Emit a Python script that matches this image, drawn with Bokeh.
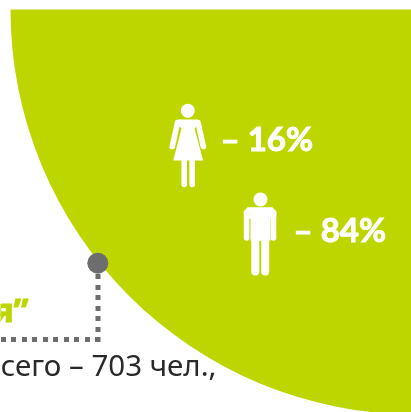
from bokeh.plotting import figure
from bokeh.models import Range1d
from bokeh.core.properties import value
from bokeh.embed import file_html
from bokeh.resources import INLINE
import math

W, H = 411, 412
GREEN = "#bed600"
GREY = "#6d6d6e"

# content
share_labels = ["– 16%", "– 84%"]
share_x = [220, 293]
share_y = [137, 228.5]
total_label = ["сего – 703 чел.,"]
title_tail = ["я”"]

# quarter disc
disc_x, disc_y, disc_r = 415, 9, 405

p = figure(width=W, height=H, output_backend="svg", toolbar_location=None,
           x_range=Range1d(0, W), y_range=Range1d(H, 0), min_border=0,
           outline_line_color=None)
p.styles = {"position": "fixed", "left": "0px", "top": "0px"}
p.xaxis.visible = False
p.yaxis.visible = False
p.grid.visible = False

p.wedge(x=[disc_x], y=[disc_y], radius=disc_r, start_angle=math.pi, end_angle=1.5*math.pi,
        direction="anticlock", fill_color=GREEN, line_color=None)

# dotted leader
p.line([99.5, 0], [339, 339], line_color=GREY, line_width=5, line_dash="5 5 5 6")
p.line([97.5, 97.5], [341.5, 265], line_color=GREY, line_width=5, line_dash="5 5 5 6")
p.circle(x=[97.3], y=[262.7], radius=10.5, fill_color=GREY, line_color=None)

# woman
p.circle(x=[187.3], y=[110.3], radius=7, fill_color="white", line_color=None)
p.patch([178, 197, 200, 194, 202.7, 172.7, 181, 175],
        [119, 119, 122, 128, 160, 160, 128, 122], fill_color="white", line_color=None)
p.multi_line([[177, 171.8], [197.6, 202.8], [183.7, 183.7], [191.7, 191.7]],
             [[122, 146], [122, 146], [158, 184], [158, 184]],
             line_color="white", line_width=5.6, line_cap="round")

# man
p.circle(x=[260], y=[199], radius=7, fill_color="white", line_color=None)
p.patch([247, 272, 275.8, 275.8, 270, 270, 250, 250, 243.3, 243.3],
        [206.7, 206.7, 211, 218, 218, 240, 240, 218, 218, 211],
        fill_color="white", line_color=None)
p.multi_line([[246.1, 246.1], [273, 273]], [[212, 237.5], [212, 237.5]],
             line_color="white", line_width=5.6, line_cap="round")
p.patch([250.7, 268.5, 268.5, 250.7], [218, 218, 240, 240], fill_color="white", line_color=None)
p.multi_line([[254.8, 254.8], [264.7, 264.7]], [[238, 271], [238, 271]],
             line_color="white", line_width=8, line_cap="round")

# texts
p.text(x=share_x, y=share_y, text=share_labels, text_color="white",
       text_font=value("Lato"), text_font_style="bold", text_font_size="33px",
       text_baseline="alphabetic", text_outline_color="white")
p.text(x=[216], y=[364], text=total_label, text_color="#2a2a2a", text_align="right",
       text_font=value("Noto Sans"), text_font_size="29.5px", text_baseline="alphabetic")
p.text(x=[28], y=[309], text=title_tail, text_color=GREEN, text_align="right",
       text_font=value("Noto Sans"), text_font_style="bold", text_font_size="33px",
       text_baseline="alphabetic", text_outline_color=GREEN)

open("out.html", "w").write(file_html(p, INLINE))
